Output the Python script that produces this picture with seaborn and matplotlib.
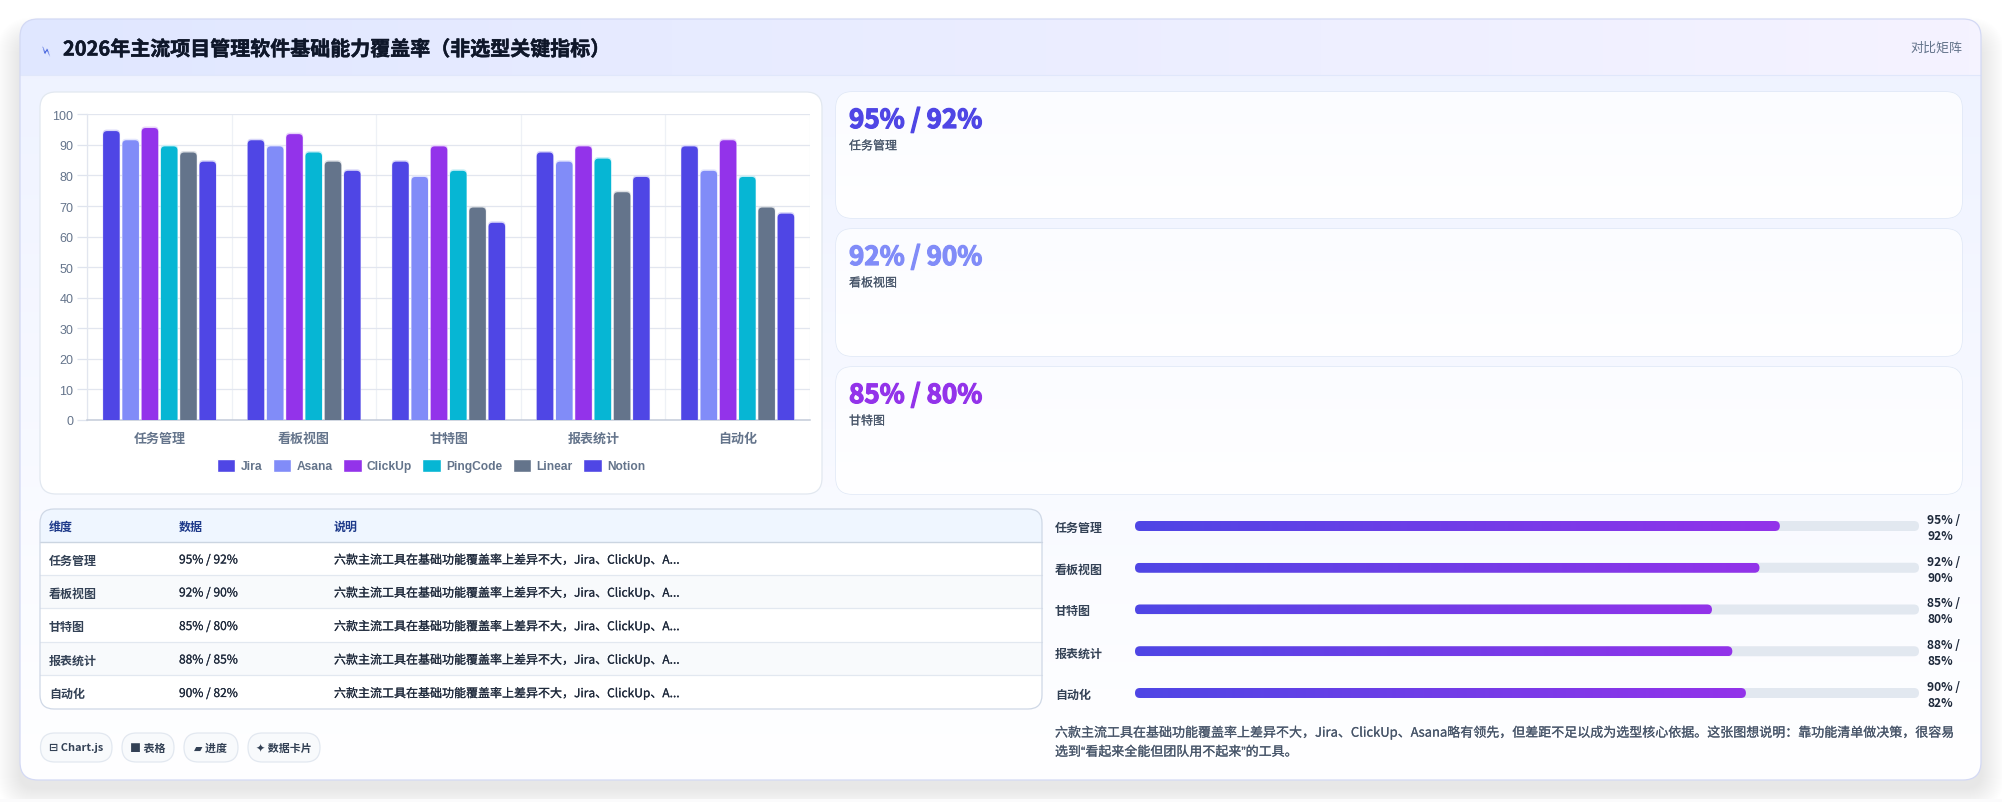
import numpy as np
import pandas as pd
import matplotlib
matplotlib.use("Agg")
import matplotlib.pyplot as plt
import matplotlib.patheffects as pe
from matplotlib.patches import FancyBboxPatch, PathPatch
from matplotlib.path import Path
from matplotlib.colors import LinearSegmentedColormap, to_rgb
import seaborn as sns

W, H = 2002, 803

# ---- data ----
categories = ["任务管理", "看板视图", "甘特图", "报表统计", "自动化"]
tools = ["Jira", "Asana", "ClickUp", "PingCode", "Linear", "Notion"]
jira = [95, 92, 85, 88, 90]
asana = [92, 90, 80, 85, 82]
clickup = [96, 94, 90, 90, 92]
pingcode = [90, 88, 82, 86, 80]
linear = [88, 85, 70, 75, 70]
notion = [85, 82, 65, 80, 68]
tool_colors = ["#4f46e5", "#818cf8", "#9333ea", "#06b6d4", "#64748b", "#4f46e5"]
y_ticks = list(range(0, 101, 10))
pair_labels = ["95% / 92%", "92% / 90%", "85% / 80%", "88% / 85%", "90% / 82%"]
card_colors = ["#4f46e5", "#818cf8", "#9333ea"]
table_header = ["维度", "数据", "说明"]
table_note = "六款主流工具在基础功能覆盖率上差异不大，Jira、ClickUp、A..."
chips = ["⊟ Chart.js", "■ 表格", "▰ 进度", "✦ 数据卡片"]
title = "2026年主流项目管理软件基础能力覆盖率（非选型关键指标）"
badge = "对比矩阵"
note_lines = [
    "六款主流工具在基础功能覆盖率上差异不大，Jira、ClickUp、Asana略有领先，但差距不足以成为选型核心依据。这张图想说明：靠功能清单做决策，很容易",
    "选到“看起来全能但团队用不起来”的工具。",
]

sns.set_theme(style="white")
CJK = ["Noto Sans CJK SC", "DejaVu Sans"]
LATIN = ["Liberation Sans", "Noto Sans CJK SC", "DejaVu Sans"]
plt.rcParams["font.family"] = CJK
plt.rcParams["axes.unicode_minus"] = False


def px(size):
    return size * 0.72


fig = plt.figure(figsize=(W / 100, H / 100), dpi=100, facecolor="#ffffff")

# Page layer addressed in pixels
page = fig.add_axes([0, 0, 1, 1], zorder=0)
page.set_xlim(0, W)
page.set_ylim(H, 0)
page.axis("off")


def lock_page():
    page.set_xlim(0, W)
    page.set_ylim(H, 0)


def label(x, y, s, size, color, weight="normal", ha="left", stroke=0.0, family=None):
    """Place text in page pixels, optionally thickened by a hairline stroke."""
    kw = {"family": family} if family else {}
    t = page.text(x, y + 1.5, s, fontsize=px(size), color=color, fontweight=weight,
                  ha=ha, va="center", zorder=3, **kw)
    if stroke:
        t.set_path_effects([pe.withStroke(linewidth=stroke, foreground=color)])
    return t


def round_box(ax, x0, y0, x1, y1, r, fc="white", ec="none", lw=1.0, z=1, alpha=None):
    patch = FancyBboxPatch((x0 + r, y0 + r), x1 - x0 - 2 * r, y1 - y0 - 2 * r,
                           boxstyle=f"round,pad={r},rounding_size={r}",
                           fc=fc, ec=ec, lw=lw, zorder=z, alpha=alpha)
    ax.add_patch(patch)
    return patch


def gradient_fill(ax, extent, c0, c1, clip, z=2, vertical=False, steps=256):
    cmap = LinearSegmentedColormap.from_list("g", [c0, c1])
    ramp = np.linspace(0, 1, steps)
    ramp = ramp[:, None] if vertical else ramp[None, :]
    im = ax.imshow(ramp, extent=extent, cmap=cmap, aspect="auto", zorder=z,
                   interpolation="bilinear", vmin=0, vmax=1)
    im.set_clip_path(clip)
    return im


# Soft drop shadow built from stacked translucent outlines, pushed downward
for i in range(24):
    grow = 24 - i
    round_box(page, 20 - grow, 20 + 22 - grow, 1981 + grow, 781 + 8 + grow,
              16 + grow, fc="#0f172a", z=0.5, alpha=0.0040)
page.add_patch(plt.Rectangle((0, 800), W, 3, fc="#fbfbfc", ec="none", zorder=0.9))

# Outer card with its vertical wash, header band on top
outer = round_box(page, 20, 20, 1981, 781, 18, fc="white", z=1)
gradient_fill(page, (20, 1981, 781, 20), "#eef2ff", "#ffffff", outer, z=1.1, vertical=True)
gradient_fill(page, (20, 1981, 76, 20), "#e0e7ff", "#f5f3ff", outer, z=1.2)
lock_page()
page.plot([20, 1981], [76, 76], color="#e0e7fb", lw=0.8, zorder=1.3)
round_box(page, 20, 20, 1981, 781, 18, fc="none", ec="#d3d9f4", lw=0.9, z=1.4)

page.text(47.5, 50, "⚡", family="DejaVu Sans", fontsize=10, color="#3b5bdb", rotation=72,
          ha="center", va="center", zorder=3)
label(63, 48.5, title, 20, "#0f172a", weight="bold", stroke=0.35)
label(1962, 46.5, badge, 13, "#64748b", ha="right")

# Chart panel and metric cards
round_box(page, 40, 93, 822, 495, 16, fc="white", ec="#e2e8f0", lw=0.9, z=2)
for top, bottom, value, name, color in zip([93, 230, 368], [219, 357, 495], pair_labels,
                                           categories, card_colors):
    card = round_box(page, 836, top, 1962, bottom, 16, fc="white", ec="#dde6f5", lw=0.9, z=2)
    gradient_fill(page, (836, 1962, bottom, top), "#fbfcff", "#ffffff", card, z=2.1, vertical=True)
    lock_page()
    label(849, top + 27, value, 26, color, weight="bold", stroke=0.9)
    label(849, top + 52.5, name, 12, "#475569", stroke=0.1)

# Summary table
table_box = round_box(page, 40, 510, 1042, 710, 14, fc="white", z=2)
header_fill = plt.Rectangle((40, 510), 1002, 33, fc="#eff6ff", ec="none", zorder=2.1)
page.add_patch(header_fill)
header_fill.set_clip_path(table_box)
row_lines = [543, 576, 609, 643, 676, 710]
for i, (y0, y1) in enumerate(zip(row_lines[:-1], row_lines[1:])):
    if i % 2 == 1:
        stripe = plt.Rectangle((40, y0), 1002, y1 - y0, fc="#f8fafc", ec="none", zorder=2.1)
        page.add_patch(stripe)
        stripe.set_clip_path(table_box)
    if i < 4:
        page.plot([40, 1042], [y1, y1], color="#e2e8f0", lw=0.9, zorder=2.2)
    ymid = (y0 + y1) / 2
    label(49, ymid, categories[i], 12, "#334155", weight="bold")
    label(179, ymid, pair_labels[i], 12, "#1e293b", stroke=0.12)
    label(334, ymid, table_note, 12, "#1e293b", stroke=0.12)
page.plot([40, 1042], [543, 543], color="#cbd5e1", lw=1.0, zorder=2.2)
for x, head in zip([49, 179, 334], table_header):
    label(x, 526, head, 12, "#1e3a8a", weight="bold")
round_box(page, 40, 510, 1042, 710, 14, fc="none", ec="#cfd8e6", lw=0.9, z=2.5)

# Chips under the table
for (x0, x1), chip in zip([(40.5, 112), (122, 174), (184, 238), (248, 320)], chips):
    round_box(page, x0, 734, x1, 763, 14.5, fc="#f8fafc", ec="#e2e8f0", lw=0.9, z=2)
    label((x0 + x1) / 2, 747, chip, 11, "#334155", weight="bold", ha="center")

# Grouped bars
chart = fig.add_axes([87.3 / W, 1 - 421 / H, (810 - 87.3) / W, (421 - 115.3) / H], zorder=2)
chart.patch.set_alpha(0)
series = pd.DataFrame({"category": categories, "Jira": jira, "Asana": asana,
                       "ClickUp": clickup, "PingCode": pingcode,
                       "Linear": linear, "Notion": notion})
series = series.melt(id_vars="category", var_name="tool", value_name="value")
sns.barplot(data=series, x="category", y="value", hue="tool", hue_order=tools,
            order=categories, palette=dict(zip(tools, tool_colors)),
            width=0.8, gap=0.1, saturation=1, ax=chart, errorbar=None, zorder=3)
chart.set_xlim(-0.5, 4.5)
chart.set_ylim(0, 100)
chart.set_xlabel("")
chart.set_ylabel("")
chart.set_yticks(y_ticks)
chart.set_xticks(np.arange(-0.5, 5, 1), minor=False)
chart.set_xticklabels([""] * 6)
chart.set_xticks(np.arange(5), minor=True)
chart.set_xticklabels(categories, minor=True, fontsize=px(13), fontweight="bold",
                      color="#64748b", va="center")
chart.tick_params(axis="x", which="minor", length=0, pad=13)
chart.tick_params(axis="x", which="major", length=8, color="#edf0f6", width=0.9)
chart.tick_params(axis="y", length=7, color="#dfe4ee", width=0.9, pad=3, left=True)
for tick in chart.get_xticklabels(minor=True):
    tick.set_fontweight("bold")
for tick in chart.get_yticklabels():
    tick.set_fontfamily(LATIN)
    tick.set_fontsize(px(12.5))
    tick.set_color("#64748b")
chart.grid(True, axis="y", color="#e2e6ef", lw=0.9, zorder=0)
chart.grid(True, axis="x", which="major", color="#eef1f6", lw=0.9, zorder=0)
chart.set_axisbelow(True)
for side in ["top", "right"]:
    chart.spines[side].set_visible(False)
chart.spines["left"].set_color("#e2e6ef")
chart.spines["left"].set_linewidth(0.9)
chart.spines["bottom"].set_color("#c3cbd9")
chart.spines["bottom"].set_linewidth(1.1)

sns.move_legend(chart, loc="center", bbox_to_anchor=(431 / W, 1 - 466.5 / H),
                bbox_transform=fig.transFigure, ncol=6, frameon=False, title=None,
                handlelength=1.55, handleheight=1.25, handletextpad=0.45,
                columnspacing=0.85, borderpad=0, fontsize=px(12))
for text in chart.get_legend().get_texts():
    text.set_fontfamily(LATIN)
    text.set_fontweight("bold")
    text.set_color("#64748b")


def top_rounded(x0, w, h, rx, ry):
    verts = [(x0, 0), (x0, h - ry), (x0, h), (x0 + rx, h), (x0 + w - rx, h), (x0 + w, h),
             (x0 + w, h - ry), (x0 + w, 0), (x0, 0)]
    codes = [Path.MOVETO, Path.LINETO, Path.CURVE3, Path.CURVE3, Path.LINETO, Path.CURVE3,
             Path.CURVE3, Path.LINETO, Path.CLOSEPOLY]
    return Path(verts, codes)


# Each bar: a pale rim at its full value, with the solid colour just inside
sx = (810 - 87.3) / 5
sy = (421 - 115.3) / 100
for bar in list(chart.patches):
    x0, w, h = bar.get_x(), bar.get_width(), bar.get_height()
    color = to_rgb(bar.get_facecolor()[:3])
    rx, ry = 4 / sx, 4 / sy
    pale = tuple(0.78 + 0.22 * c for c in color)
    chart.add_patch(PathPatch(top_rounded(x0, w, h, rx, ry), fc=pale, ec="none", zorder=3))
    inset_x, inset_y = 0.4 / sx, 1.5 / sy
    chart.add_patch(PathPatch(top_rounded(x0 + inset_x, w - 2 * inset_x, h - inset_y, rx, ry),
                              fc=color, ec="none", zorder=3.1))
    bar.set_visible(False)

# Progress rows: the filled length is the first figure of each pair
row_gap = 41.75
track_top = 527 - row_gap / 2
progress = fig.add_axes([1135 / W, 1 - (track_top + 5 * row_gap) / H, (1919 - 1135) / W, 5 * row_gap / H],
                        zorder=2)
progress.patch.set_alpha(0)
fill_scale_max = 115.5
sns.barplot(x=jira, y=categories, order=categories, orient="h", width=10 / row_gap,
            color=tool_colors[0], saturation=1, ax=progress, errorbar=None)
progress.set_xlim(0, fill_scale_max)
progress.set_ylim(4.5, -0.5)
progress.axis("off")
per_x = (1919 - 1135) / fill_scale_max
cap = 5 / per_x
aspect = per_x / row_gap
for i, bar in enumerate(list(progress.patches)):
    y0, hgt, val = bar.get_y(), bar.get_height(), bar.get_width()
    bar.set_visible(False)
    progress.add_patch(FancyBboxPatch((0, y0), fill_scale_max, hgt,
                                      boxstyle=f"round,pad=0,rounding_size={cap}",
                                      mutation_aspect=aspect, fc="#e2e8f0", ec="none", zorder=1))
    fill = FancyBboxPatch((0, y0), val, hgt, boxstyle=f"round,pad=0,rounding_size={cap}",
                          mutation_aspect=aspect, fc="none", ec="none", zorder=2)
    progress.add_patch(fill)
    gradient_fill(progress, (0, val, y0 + hgt, y0), "#4f46e5", "#9333ea", fill, z=2)
    progress.set_xlim(0, fill_scale_max)
    progress.set_ylim(4.5, -0.5)
    ymid = 527 + i * row_gap
    first, second = pair_labels[i].split(" / ")
    label(1055, ymid, categories[i], 12, "#334155", weight="bold")
    label(1927, ymid - 8, first + " /", 12, "#1e293b", weight="bold")
    label(1927, ymid + 8, second, 12, "#1e293b", weight="bold")

label(1055, 732, note_lines[0], 13, "#475569", stroke=0.12)
label(1055, 752, note_lines[1], 13, "#475569", stroke=0.12, family=LATIN)

fig.savefig("out.png", dpi=100, facecolor=fig.get_facecolor())
